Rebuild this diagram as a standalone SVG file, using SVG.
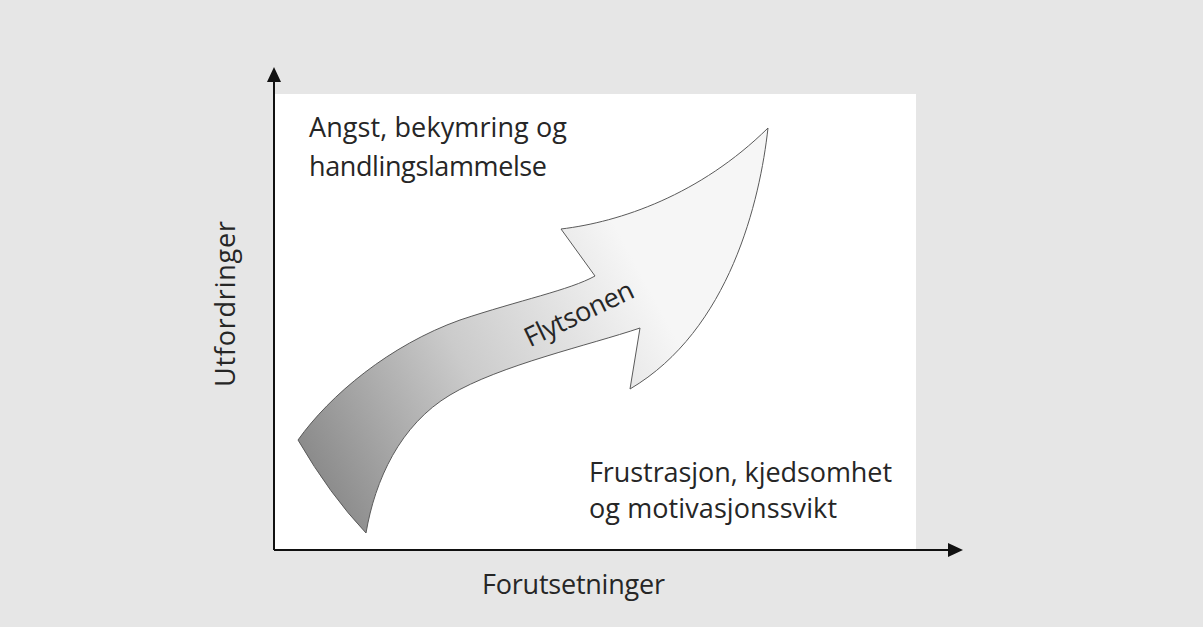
<svg xmlns="http://www.w3.org/2000/svg" width="1203" height="627" viewBox="0 0 1203 627">
<style>
.t{font-family:"Open Sans","Noto Sans","Liberation Sans",sans-serif;fill:#262626;font-size:27px}
.ax{stroke:#111;stroke-width:2;fill:none}
</style>
<defs>
<linearGradient id="g" gradientUnits="userSpaceOnUse" x1="300" y1="480" x2="650" y2="290">
<stop offset="0" stop-color="#858585"/>
<stop offset="0.5" stop-color="#cbcbcb"/>
<stop offset="1" stop-color="#f6f6f6"/>
</linearGradient>
</defs>
<rect width="1203" height="627" fill="#e6e6e6"/>
<rect id="plot" x="274" y="94" width="642" height="456" fill="#ffffff"/>
<g id="connectors">
<line class="ax" x1="274" y1="550" x2="274" y2="80"/>
<path d="M274,67 L281,82 L267,82 Z" fill="#111"/>
<line class="ax" x1="274" y1="550" x2="950" y2="550"/>
<path d="M963,550 L948,543 L948,557 Z" fill="#111"/>
</g>
<g id="flow-arrow">
<path d="M298,440 C330,395 390,345 460,320 C520,300 570,290 595,276 L561,229 C620,222 700,195 768,128 C760,200 730,330 630,389 L640,328 C590,345 500,365 450,395 C400,425 375,480 366,533 Q330,495 298,440 Z" fill="url(#g)" stroke="#5a5a5a" stroke-width="1"/>
<text class="t" x="583" y="322" text-anchor="middle" font-size="25" textLength="118" transform="rotate(-25.5 583 322)">Flytsonen</text>
</g>
<g id="label-top">
<text class="t" x="309" y="137" textLength="258">Angst, bekymring og</text>
<text class="t" x="309" y="176" textLength="238">handlingslammelse</text>
</g>
<g id="label-bottom">
<text class="t" x="589" y="482" textLength="303">Frustrasjon, kjedsomhet</text>
<text class="t" x="589" y="518" textLength="248">og motivasjonssvikt</text>
</g>
<g id="axis-y-label">
<text class="t" x="0" y="0" text-anchor="middle" textLength="166" transform="translate(235 304) rotate(-90)">Utfordringer</text>
</g>
<g id="axis-x-label">
<text class="t" x="573.5" y="594" text-anchor="middle" textLength="183">Forutsetninger</text>
</g>
</svg>
